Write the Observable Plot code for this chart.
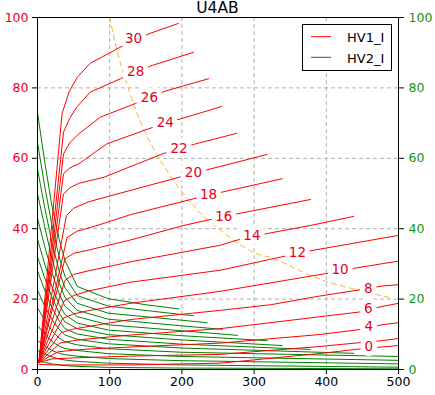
<!DOCTYPE html>
<html><head><meta charset="utf-8">
<script src="https://cdn.jsdelivr.net/npm/d3@7"></script>
<script src="https://cdn.jsdelivr.net/npm/@observablehq/plot@0.6"></script>
<style>body{margin:0;background:#fff}</style>
</head><body><div id="chart"></div>
<script>
// HV1_I contour levels (red)
const hv1_30 = [[2,2],[34,72.7],[44,79],[55,83],[73,87],[115,91.6],[156,95.5],[195,98.3]];
const hv1_28 = [[2,2],[36,67.4],[45,71.5],[55,74.7],[73,78.8],[115,82.6],[159,86.4],[216,90.1]];
const hv1_26 = [[2,2],[36,61.2],[45,64.5],[57,66.9],[87,71.7],[136,75.6],[177,79.1],[237,82.6]];
const hv1_24 = [[2,2],[36,55.6],[45,57.3],[57,58.4],[96,64.1],[154,68.4],[198,71.2],[255,74.7]];
const hv1_22 = [[2,2],[36,49.9],[45,51.6],[57,52.9],[92,54.6],[138,58.4],[175,61.4],[219,64.1],[276,67.1]];
const hv1_20 = [[2,2],[40,43.7],[50,45.8],[70,47.6],[129,50.9],[196,54.6],[240,57],[318,61.1]];
const hv1_18 = [[2,2],[41,37.5],[55,39.3],[84,41],[129,44],[216,48.5],[260,50.6],[339,54.2]];
const hv1_16 = [[2,2],[38,31.4],[50,33],[68,33.8],[129,36.8],[202,40.9],[237,42.5],[281,44.4],[378,48.3]];
const hv1_14 = [[2,2],[38,25.3],[50,27],[70,28],[129,30.6],[198,33.2],[253,35.3],[277,36.8],[320,38.7],[380,41],[438,43.5]];
const hv1_12 = [[2,2],[37,19.5],[50,21],[70,22.3],[129,24.8],[253,28.2],[336,31.9],[380,33.8],[500,38.1]];
const hv1_10 = [[2,2],[35,14.5],[50,15.8],[70,16.7],[129,18.8],[253,22.2],[398,27.2],[440,28.8],[500,30.8]];
const hv1_8  = [[2,2],[33,10.5],[50,11.5],[70,12.2],[129,14.2],[253,16.8],[323,18.4],[389,20.8],[445,22.6],[477,23.7],[500,24.1]];
const hv1_6  = [[2,2],[31,7.5],[50,8.2],[70,8.7],[129,9.8],[253,11.6],[343,13.8],[445,16.3],[477,17.9],[500,18.8]];
const hv1_4  = [[2,2],[28,5],[50,5.5],[70,5.8],[129,6.4],[253,7.5],[389,9.9],[445,11.3],[477,12.7],[500,13.3]];
const hv1_2  = [[2,2],[20,3],[50,3.3],[129,3.8],[253,4.3],[389,6.5],[445,7.6],[477,8.2],[500,8.8]];
const hv1_0  = [[2,1.5],[20,1.3],[129,1.3],[253,1.8],[389,4.5],[445,5.8],[477,6.4],[500,6.8]];
const hv1Levels = [30,28,26,24,22,20,18,16,14,12,10,8,6,4,2,0];
const hv1Curves = [hv1_30,hv1_28,hv1_26,hv1_24,hv1_22,hv1_20,hv1_18,hv1_16,hv1_14,hv1_12,hv1_10,hv1_8,hv1_6,hv1_4,hv1_2,hv1_0];

// contour labels
const hv1LabelText = ["30","28","26","24","22","20","18","16","14","12","10","8","6","4","0"];
const hv1LabelX = [133,136,155,177,196,216,237,258,297,360,419,458,458,459,459];
const hv1LabelY = [94,84.7,77.3,70,62.7,56,49.7,43.5,38,33.3,28.4,23.1,17.4,12.3,6.6];

// HV2_I contours (green)
const hv2_1  = [[0,73],[10,59],[20,46.5],[30,37],[38,31],[55,23.6],[98,20.1],[150,18.4],[196,17.2]];
const hv2_2  = [[0,64.5],[10,52],[20,41],[30,32],[38,26.5],[55,21],[98,18],[200,15.6],[216,15.3]];
const hv2_3  = [[0,57],[10,46],[20,36],[30,28],[38,23.2],[55,18.8],[98,16],[200,14],[235,13.3]];
const hv2_4  = [[0,50],[10,40.5],[20,31.5],[30,24.5],[38,20.5],[55,16.8],[98,14.3],[200,12.4],[256,11.4]];
const hv2_5  = [[0,43],[10,35],[20,27.5],[30,21.5],[38,18],[55,15],[98,12.7],[200,11],[277,9.7]];
const hv2_6  = [[0,37],[10,30],[20,23.5],[30,18.5],[38,15.6],[55,13.2],[98,11.2],[200,9.6],[318,8.2]];
const hv2_7  = [[0,32],[10,26],[20,20.5],[30,16],[38,13.5],[55,11.6],[98,9.9],[200,8.4],[339,6.8]];
const hv2_8  = [[0,28],[10,22.5],[20,17.5],[30,13.8],[38,11.6],[55,10.1],[98,8.6],[200,7.2],[378,5.7]];
const hv2_9  = [[0,22.5],[10,18],[20,14.2],[30,11.4],[38,9.8],[55,8.6],[98,7.3],[200,6.1],[438,4.6]];
const hv2_10 = [[0,17.5],[10,14],[20,11],[30,8.9],[38,7.9],[55,7],[98,5.9],[200,4.9],[500,3.7]];
const hv2_11 = [[0,12.5],[10,10],[20,8],[30,6.6],[38,6],[55,5.4],[98,4.5],[200,3.7],[500,2.6]];
const hv2_12 = [[0,8.2],[10,6.7],[20,5.4],[30,4.6],[38,4.2],[55,3.8],[98,3.1],[200,2.5],[500,1.6]];
const hv2_13 = [[0,5.4],[10,4.4],[20,3.6],[30,3],[38,2.7],[55,2.3],[98,1.8],[200,1.3],[500,0.65]];
const hv2_14 = [[0,2.5],[10,2],[20,1.6],[30,1.3],[38,1.1],[55,0.9],[98,0.6],[200,0.4],[500,0.2]];
const hv2Curves = [hv2_1,hv2_2,hv2_3,hv2_4,hv2_5,hv2_6,hv2_7,hv2_8,hv2_9,hv2_10,hv2_11,hv2_12,hv2_13,hv2_14];

// orange dashed boundary
const boundaryX = [100,115,150,198,237,299,327,396,488];
const boundaryY = [100,87,67,51,42.3,33.3,31.5,25.3,20.4];

const xTicks = [0,100,200,300,400,500];
const yTicks = [0,20,40,60,80,100];
const titleText = "U4AB";
const legendNames = ["HV1_I","HV2_I"];

const redRows = hv1Curves.flatMap((c,i) => c.map(([x,y]) => ({x,y,k:hv1Levels[i]})));
const greenRows = hv2Curves.flatMap((c,i) => c.map(([x,y]) => ({x,y,k:i})));
const labelRows = hv1LabelText.map((t,i) => ({x:hv1LabelX[i], y:hv1LabelY[i], t}));
const boundaryRows = boundaryX.map((x,i) => ({x, y:boundaryY[i]}));

const chart = Plot.plot({
  width: 435, height: 395,
  marginLeft: 37, marginRight: 37, marginTop: 17, marginBottom: 26,
  style: {fontFamily: "DejaVu Sans", fontSize: "12px", background: "white", overflow: "visible"},
  x: {domain: [0,500]},
  y: {domain: [0,100]},
  marks: [
    Plot.gridX([100,200,300,400], {stroke: "#b0b0b0", strokeOpacity: 1, strokeDasharray: "4,3"}),
    Plot.gridY([20,40,60,80], {stroke: "#b0b0b0", strokeOpacity: 1, strokeDasharray: "4,3"}),
    Plot.line(boundaryRows, {x: "x", y: "y", stroke: "#f5a623", strokeWidth: 0.9, strokeDasharray: "5,4", curve: "catmull-rom"}),
    Plot.line(greenRows, {x: "x", y: "y", z: "k", stroke: "green", strokeWidth: 1}),
    Plot.line(redRows, {x: "x", y: "y", z: "k", stroke: "red", strokeWidth: 1}),
    Plot.text(labelRows, {x: "x", y: "y", text: "t", fill: "#e3001b", stroke: "white", strokeWidth: 10, fontSize: 13.5}),
    Plot.frame({stroke: "black", strokeWidth: 1}),
    Plot.axisX({ticks: xTicks, tickSize: 5, tickPadding: 3, label: null, fill: "black", stroke: "black", fontSize: 12.5}),
    Plot.axisY({anchor: "left", ticks: yTicks, tickSize: 5, tickPadding: 4, label: null, fill: "#e3001b", stroke: "black", fontSize: 12.5}),
    Plot.axisY({anchor: "right", ticks: yTicks, tickSize: 5, tickPadding: 5, label: null, fill: "#119911", stroke: "black", fontSize: 12.5})
  ]
});

const svg = d3.select(chart);
svg.append("text").attr("x", 217.5).attr("y", 13).attr("text-anchor", "middle")
  .attr("font-family", "DejaVu Sans").attr("font-size", 15.5).attr("fill", "black").text(titleText);
const lg = svg.append("g");
lg.append("rect").attr("x", 302.5).attr("y", 24.5).attr("width", 89).attr("height", 46)
  .attr("fill", "white").attr("stroke", "black").attr("stroke-width", 1);
[["red", 36.7, 41.5], ["green", 57.3, 62.5]].forEach(([c, ly, ty], i) => {
  lg.append("line").attr("x1", 311).attr("x2", 331).attr("y1", ly).attr("y2", ly).attr("stroke", c).attr("stroke-width", 1);
  lg.append("text").attr("x", 347).attr("y", ty).attr("text-anchor", "start").attr("font-family", "DejaVu Sans").attr("font-size", 13)
    .attr("fill", "black").text(legendNames[i]);
});
document.getElementById("chart").appendChild(chart);
</script>
</body></html>
